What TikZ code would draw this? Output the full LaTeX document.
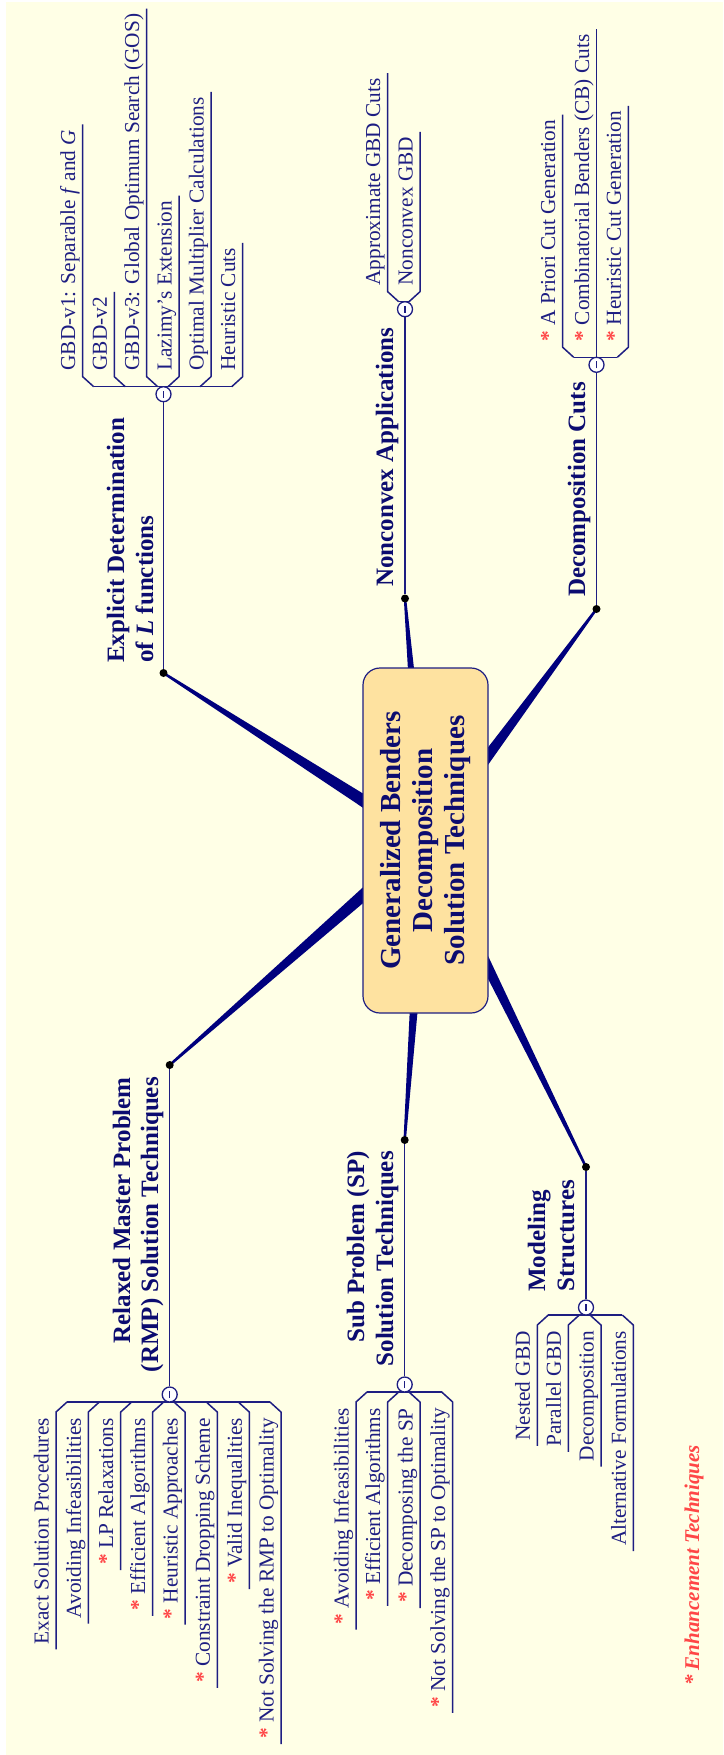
\documentclass[tikz,border=0pt]{standalone}
\usepackage{fontspec}
\setmainfont{Liberation Serif}
\usetikzlibrary{calc}

\definecolor{bg}{RGB}{255,255,230}
\definecolor{ink}{RGB}{30,30,130}
\definecolor{deep}{RGB}{12,12,112}
\definecolor{branchblue}{RGB}{0,0,125}
\definecolor{hubfill}{RGB}{254,226,160}
\definecolor{starred}{RGB}{255,70,70}

\newcommand{\enhmark}{\textcolor{starred}{\bfseries *}\ }

% tapered branch from the hub centre (c) to a branch end
\newcommand{\wedgeto}[1]{%
  \fill[trunk] ($(c)!7.5pt!90:(#1)$) -- ($(#1)!1.2pt!-90:(c)$) --
    ($(#1)!1.2pt!90:(c)$) -- ($(c)!7.5pt!-90:(#1)$) -- cycle;}

% leaf growing upwards from a bar: name, line x, bevel x on bar, bar y, text
\newcommand{\leafup}[5]{%
  \node[leaf, anchor=base west] (#1) at ({#2-7.5},{#4-16}) {#5};
  \draw[twig] (#3,#4) -- (#2,{#4-10}) -- (#2,0 |- #1.east) -- ++(0,-5);}

% leaf hanging downwards from a bar
\newcommand{\leafdown}[5]{%
  \node[leaf, anchor=base east] (#1) at ({#2-7.5},{#4+16}) {#5};
  \draw[twig] (#3,#4) -- (#2,{#4+10}) -- (#2,0 |- #1.west) -- ++(0,5);}

\tikzset{
  leaf/.style={rotate=90, inner sep=0pt, text=ink, font=\fontsize{21.3}{25}\selectfont},
  branchlabel/.style={rotate=90, inner sep=0pt, text=deep, font=\fontsize{25}{29}\selectfont\bfseries},
  twig/.style={draw=ink, line width=1.5pt, line join=round},
  stem/.style={draw=ink, line width=1.5pt},
  trunk/.style={fill=branchblue},
  dot/.style={circle, fill=black, inner sep=0pt, minimum size=8pt},
  toggle/.style={circle, draw=ink, fill=white, line width=1.3pt, inner sep=0pt,
    minimum size=15pt,
    path picture={\draw[ink, line width=1.1pt]
      ([yshift=-3.5pt]path picture bounding box.center) --
      ([yshift=3.5pt]path picture bounding box.center);}},
  hub/.style={rotate=90, draw=ink, fill=hubfill, line width=1.2pt,
    rounded corners=17pt, minimum width=345pt, minimum height=125pt,
    inner sep=0pt, align=center, text=deep,
    font=\fontsize{29}{32}\selectfont\bfseries},
}

\begin{document}
\begin{tikzpicture}[x=1pt,y=-1pt]
\useasboundingbox (0,0) rectangle (723,1755);
\fill[bg] (6,2) rectangle (723,1755);

% hub centre and branch ends
\coordinate (c) at (425.5,840.5);
\coordinate (pE) at (163.5,673);
\coordinate (pN) at (405,598.5);
\coordinate (pD) at (596.5,609);
\coordinate (pR) at (169.7,1065);
\coordinate (pS) at (404.7,1140);
\coordinate (pM) at (586,1167);

\foreach \p in {pE,pN,pD,pR,pS,pM} {\wedgeto{\p}}

\node[hub] (hub) at (c) {Generalized Benders\\Decomposition\\Solution Techniques};

\node[dot] (dE) at (pE) {};
\node[dot] (dN) at (pN) {};
\node[dot] (dD) at (pD) {};
\node[dot] (dR) at (pR) {};
\node[dot] (dS) at (pS) {};
\node[dot] (dM) at (pM) {};

% bars carrying the leaves
\draw[twig] (93.7,386.7) -- (231.7,386.7);
\draw[twig] (398.7,301.7) -- (409,301.7);
\draw[twig] (573.7,357.3) -- (617.3,357.3);
\draw[twig] (67,1402) -- (270,1402);
\draw[twig] (367,1392) -- (441.7,1392);
\draw[twig] (548.3,1315) -- (622.3,1315);

\node[toggle] (tE) at (163.5,394.2) {};
\node[toggle] (tN) at (405,309.2) {};
\node[toggle] (tD) at (596.5,364.8) {};
\node[toggle] (tR) at (169.7,1394.5) {};
\node[toggle] (tS) at (404.7,1384.5) {};
\node[toggle] (tM) at (586,1307.5) {};

\draw[stem] (dE) -- (tE);
\draw[stem] (dN) -- (tN);
\draw[stem] (dD) -- (tD);
\draw[stem] (dR) -- (tR);
\draw[stem] (dS) -- (tS);
\draw[stem] (dM) -- (tM);

% branch titles
\node[branchlabel, anchor=base west] (lE1) at (124,663) {Explicit Determination};
\node[branchlabel, anchor=base west] (lE2) at (153,663) {of \textit{L} functions};
\node[branchlabel, anchor=base east] (lR1) at (130,1077) {Relaxed Master Problem};
\node[branchlabel, anchor=base east] (lR2) at (158,1077) {(RMP) Solution Techniques};
\node[branchlabel, anchor=base east] (lS1) at (364,1151) {Sub Problem (SP)};
\node[branchlabel, anchor=base east] (lS2) at (393,1151) {Solution Techniques};
\node[branchlabel, anchor=base west] (lM1) at (545,1292) {Modeling};
\node[branchlabel, anchor=base west] (lM2) at (574,1292) {Structures};
\node[branchlabel, anchor=base west] (lN) at (393,587) {Nonconvex Applications};
\node[branchlabel, anchor=base west] (lD) at (585,597) {Decomposition Cuts};

% explicit determination of L functions
\leafup{e1}{82.7}{93.7}{386.7}{GBD-v1: Separable \textit{f} and \textit{G}}
\leafup{e2}{114.3}{125.3}{386.7}{GBD-v2}
\leafup{e3}{146.7}{157.7}{386.7}{GBD-v3: Global Optimum Search (GOS)}
\leafup{e4}{179}{168}{386.7}{Lazimy's Extension}
\leafup{e5}{211}{200}{386.7}{Optimal Multiplier Calculations}
\leafup{e6}{242.7}{231.7}{386.7}{Heuristic Cuts}

% nonconvex applications
\leafup{n1}{387.7}{398.7}{301.7}{Approximate GBD Cuts}
\leafup{n2}{420}{409}{301.7}{Nonconvex GBD}

% decomposition cuts
\leafup{k1}{562.7}{573.7}{357.3}{\enhmark A Priori Cut Generation}
\leafup{k2}{596.5}{596.5}{357.3}{\enhmark Combinatorial Benders (CB) Cuts}
\leafup{k3}{628.3}{617.3}{357.3}{\enhmark Heuristic Cut Generation}

% relaxed master problem
\leafdown{r1}{56}{67}{1402}{Exact Solution Procedures}
\leafdown{r2}{88.3}{99.3}{1402}{Avoiding Infeasibilities}
\leafdown{r3}{120.7}{131.7}{1402}{\enhmark LP Relaxations}
\leafdown{r4}{152.7}{163.7}{1402}{\enhmark Efficient Algorithms}
\leafdown{r5}{185}{174}{1402}{\enhmark Heuristic Approaches}
\leafdown{r6}{217.3}{206.3}{1402}{\enhmark Constraint Dropping Scheme}
\leafdown{r7}{249.3}{238.3}{1402}{\enhmark Valid Inequalities}
\leafdown{r8}{281}{270}{1402}{\enhmark Not Solving the RMP to Optimality}

% sub problem
\leafdown{s1}{356}{367}{1392}{\enhmark Avoiding Infeasibilities}
\leafdown{s2}{387.7}{398.7}{1392}{\enhmark Efficient Algorithms}
\leafdown{s3}{420}{409}{1392}{\enhmark Decomposing the SP}
\leafdown{s4}{452.7}{441.7}{1392}{\enhmark Not Solving the SP to Optimality}

% modeling structures
\leafdown{m1}{537.3}{548.3}{1315}{Nested GBD}
\leafdown{m2}{568.3}{579.3}{1315}{Parallel GBD}
\leafdown{m3}{601}{590}{1315}{Decomposition}
\leafdown{m4}{633.3}{622.3}{1315}{Alternative Formulations}

\node[rotate=90, anchor=base west, inner sep=0pt, text=starred,
  font=\fontsize{21}{25}\selectfont\bfseries\itshape] (legend) at (699,1686)
  {* Enhancement Techniques};
\end{tikzpicture}
\end{document}
